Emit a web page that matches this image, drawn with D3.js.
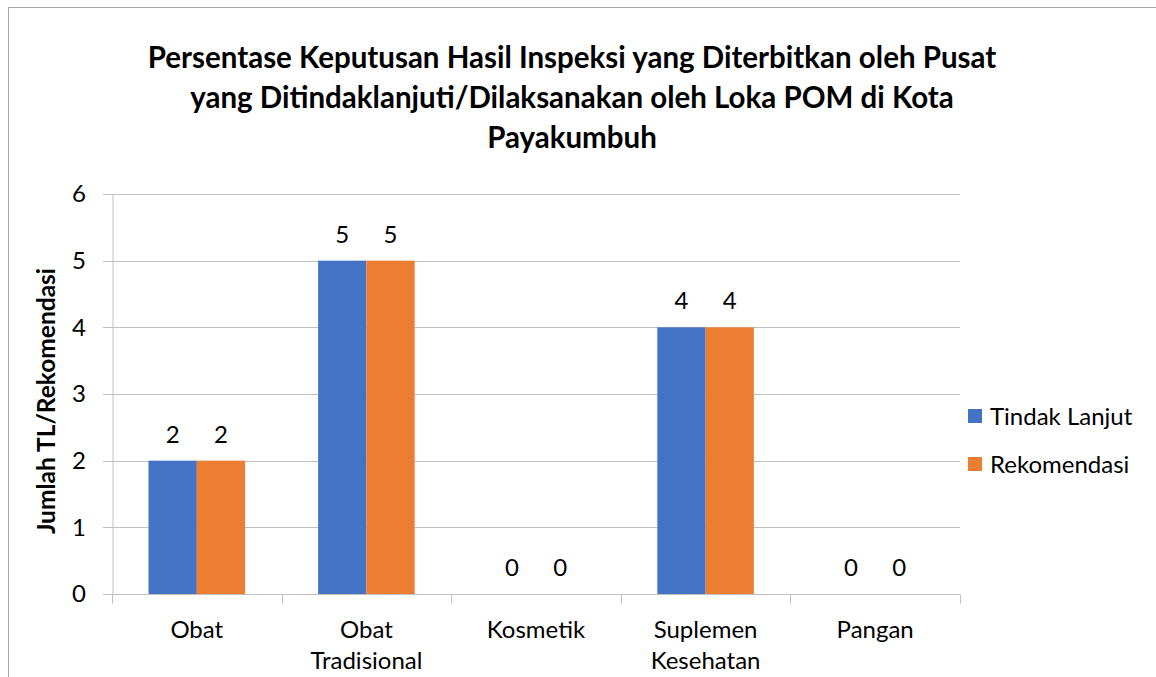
<!DOCTYPE html>
<html>
<head>
<meta charset="utf-8">
<script src="https://cdn.jsdelivr.net/npm/d3@7"></script>
<style>
  html, body { margin: 0; padding: 0; background: #fff; }
  svg { display: block; font-family: Lato, "Open Sans", sans-serif; }
</style>
</head>
<body>
<div id="svgContainer"></div>
<script>
const categories = [["Obat"], ["Obat", "Tradisional"], ["Kosmetik"], ["Suplemen", "Kesehatan"], ["Pangan"]];
const series = ["Tindak Lanjut", "Rekomendasi"];
const tindakLanjut = [2, 5, 0, 4, 0];
const rekomendasi = [2, 5, 0, 4, 0];
const yTicks = [0, 1, 2, 3, 4, 5, 6];
const titleLines = [
  "Persentase Keputusan Hasil Inspeksi yang Diterbitkan oleh Pusat",
  "yang Ditindaklanjuti/Dilaksanakan oleh Loka POM di Kota",
  "Payakumbuh"
];
const yTitle = "Jumlah TL/Rekomendasi";

const colors = ["#4472C4", "#ED7D31"];
const values = [tindakLanjut, rekomendasi];

const width = 1156;
const height = 677;
const margin = { top: 194, bottom: 83, left: 112, right: 196 };
const fontSize = 24;

const svg = d3.select("#svgContainer")
  .append("svg")
  .attr("width", width)
  .attr("height", height);

// outer chart border (only left and top are in view)
svg.append("rect")
  .attr("x", 8.5).attr("y", 7.5)
  .attr("width", 1160).attr("height", 700)
  .attr("fill", "none")
  .attr("stroke", "#a6a6a6");

const keys = categories.map(c => c.join(" "));

const x0 = d3.scaleBand()
  .domain(keys)
  .range([margin.left, width - margin.right]);

const x1 = d3.scaleBand()
  .domain(series)
  .range([0, x0.bandwidth()])
  .paddingOuter(0.757);

const y = d3.scaleLinear()
  .domain([0, 6])
  .range([height - margin.bottom, margin.top]);

// gridlines
svg.append("g")
  .selectAll("line")
  .data(yTicks.filter(d => d > 0))
  .join("line")
  .attr("x1", margin.left - 9)
  .attr("x2", width - margin.right)
  .attr("y1", d => Math.round(y(d)) + 0.5)
  .attr("y2", d => Math.round(y(d)) + 0.5)
  .attr("stroke", "#bfbfbf");

// bars
const groups = svg.append("g")
  .selectAll("g")
  .data(keys)
  .join("g")
  .attr("transform", d => `translate(${x0(d)},0)`);

groups.selectAll("rect")
  .data((d, i) => series.map((s, j) => ({ s, v: values[j][i], c: colors[j] })))
  .join("rect")
  .attr("x", d => x1(d.s))
  .attr("width", x1.bandwidth())
  .attr("y", d => y(d.v))
  .attr("height", d => y(0) - y(d.v))
  .attr("fill", d => d.c);

groups.selectAll("text")
  .data((d, i) => series.map((s, j) => ({ s, v: values[j][i] })))
  .join("text")
  .attr("x", d => x1(d.s) + x1.bandwidth() / 2)
  .attr("y", d => y(d.v) - 18)
  .attr("text-anchor", "middle")
  .attr("font-size", fontSize)
  .attr("fill", "#000")
  .text(d => d.v);

// y axis
const yAxis = svg.append("g")
  .attr("transform", `translate(${margin.left},0)`)
  .call(d3.axisLeft(y).tickValues(yTicks).tickFormat(d3.format("d")).tickSize(0).tickPadding(26));
yAxis.select(".domain").attr("stroke", "#bfbfbf").attr("transform", "translate(0.5,0)");
yAxis.selectAll("text").attr("font-size", fontSize).attr("fill", "#000").attr("font-family", "Lato");

// x axis
const xAxisY = Math.round(y(0)) + 0.5;
svg.append("line")
  .attr("x1", margin.left - 9).attr("x2", width - margin.right)
  .attr("y1", xAxisY).attr("y2", xAxisY)
  .attr("stroke", "#bfbfbf");
svg.append("g")
  .selectAll("line")
  .data(d3.range(keys.length + 1))
  .join("line")
  .attr("x1", i => Math.round(margin.left + i * x0.step()) + 0.5)
  .attr("x2", i => Math.round(margin.left + i * x0.step()) + 0.5)
  .attr("y1", xAxisY)
  .attr("y2", xAxisY + 9)
  .attr("stroke", "#bfbfbf");

svg.append("g")
  .selectAll("text")
  .data(categories)
  .join("text")
  .attr("x", (d, i) => x0(keys[i]) + x0.bandwidth() / 2)
  .attr("y", 638)
  .attr("text-anchor", "middle")
  .attr("font-size", fontSize)
  .attr("fill", "#000")
  .selectAll("tspan")
  .data(d => d)
  .join("tspan")
  .attr("x", function () { return this.parentNode.getAttribute("x"); })
  .attr("dy", (d, i) => i === 0 ? 0 : 31)
  .text(d => d);

// title
svg.append("g")
  .selectAll("text")
  .data(titleLines)
  .join("text")
  .attr("x", 572)
  .attr("y", (d, i) => 68 + i * 40)
  .attr("text-anchor", "middle")
  .attr("font-size", 29.5)
  .attr("font-weight", "bold")
  .attr("fill", "#000")
  .text(d => d);

// y axis title
svg.append("text")
  .attr("transform", `translate(55,401) rotate(-90)`)
  .attr("text-anchor", "middle")
  .attr("font-size", 24.5)
  .attr("font-weight", "bold")
  .attr("fill", "#000")
  .text(yTitle);

// legend
const legend = svg.append("g")
  .selectAll("g")
  .data(series)
  .join("g")
  .attr("transform", (d, i) => `translate(968,${409 + i * 48})`);
legend.append("rect")
  .attr("width", 14).attr("height", 14)
  .attr("fill", (d, i) => colors[i]);
legend.append("text")
  .attr("x", 22).attr("y", 16)
  .attr("font-size", fontSize)
  .attr("fill", "#000")
  .text(d => d);
</script>
</body>
</html>
